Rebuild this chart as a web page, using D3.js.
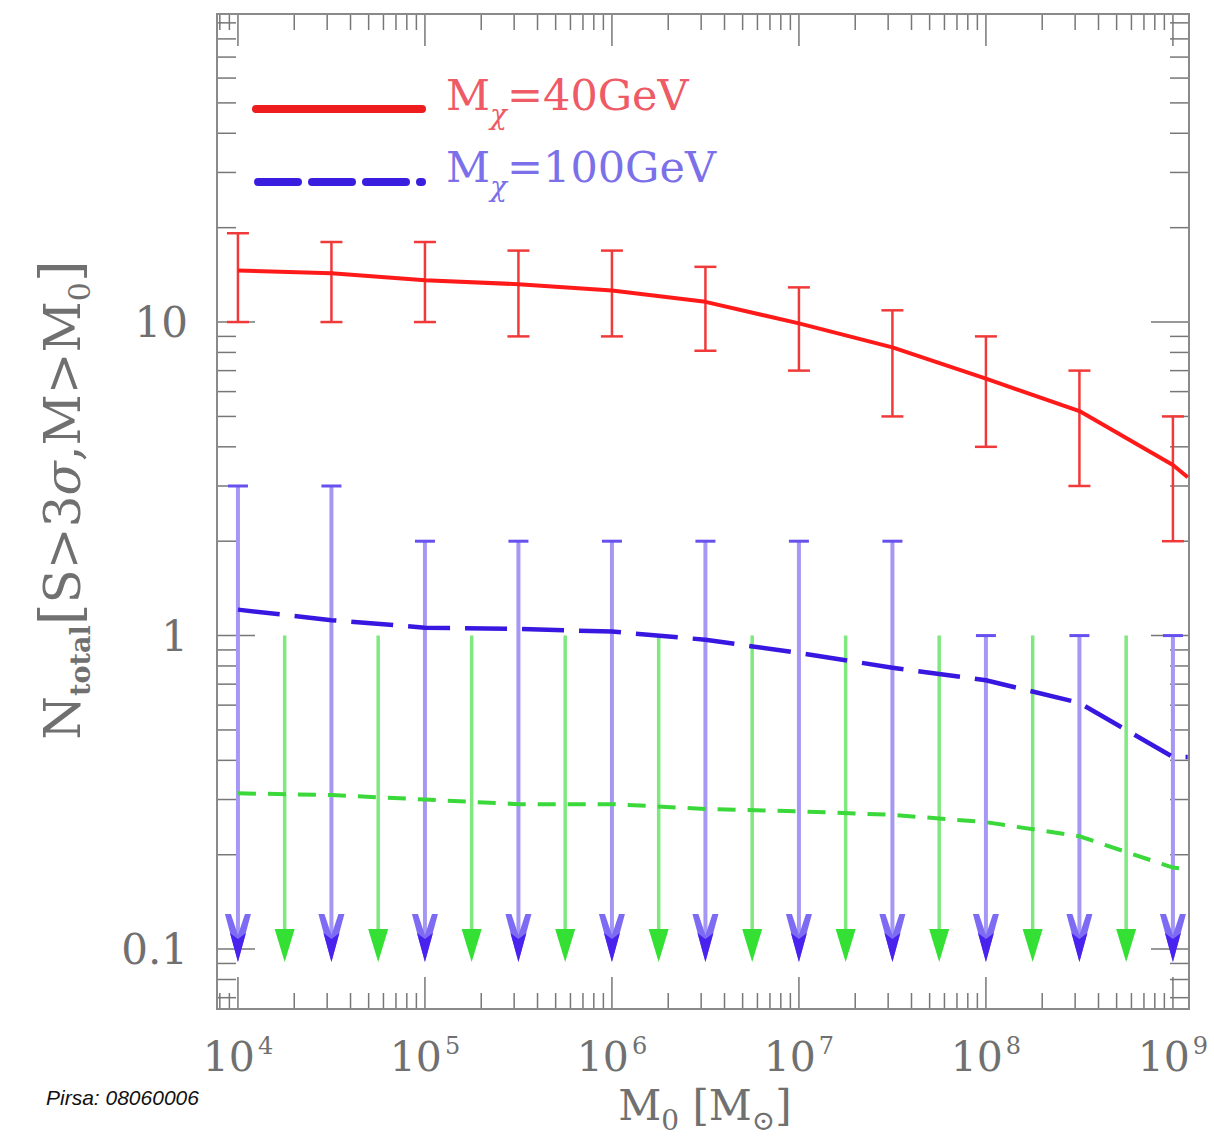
<!DOCTYPE html>
<html>
<head>
<meta charset="utf-8">
<script src="https://cdn.jsdelivr.net/npm/d3@7"></script>
<style>
  html, body { margin: 0; padding: 0; background: #fff; }
  svg { display: block; }
</style>
</head>
<body>
<svg id="chart" width="1214" height="1136"></svg>
<script>
// ---------------- DATA ----------------
// halo mass thresholds M0 [Msun]
const massPoints = [1e4, 3.162e4, 1e5, 3.162e5, 1e6, 3.162e6, 1e7, 3.162e7, 1e8, 3.162e8, 1e9];
// extra point where the curves meet the right frame
const massEdge = 1.2e9;

// M_chi = 40 GeV (red, solid, with error bars)
const red40Value = [14.6, 14.3, 13.6, 13.2, 12.6, 11.6, 9.9, 8.3, 6.6, 5.2, 3.5];
const red40Upper = [19.2, 18.0, 18.0, 16.9, 16.9, 15.0, 12.9, 10.9, 9.0, 7.0, 5.0];
const red40Lower = [10.0, 10.0, 10.0, 9.0, 9.0, 8.1, 7.0, 5.0, 4.0, 3.0, 2.0];
const red40Edge = 3.2;

// M_chi = 100 GeV (blue, long dashed, upper-limit arrows)
const blue100Value = [1.21, 1.12, 1.06, 1.05, 1.03, 0.97, 0.88, 0.79, 0.72, 0.61, 0.41];
const blue100Upper = [3, 3, 2, 2, 2, 2, 2, 2, 1, 1, 1];
const blue100Edge = 0.41;

// third case (green, short dashed, upper-limit arrows at half-decades)
const greenValue = [0.314, 0.31, 0.30, 0.29, 0.29, 0.28, 0.275, 0.268, 0.254, 0.229, 0.182];
const greenEdge = 0.18;
const greenArrowMass = [1.778e4, 5.623e4, 1.778e5, 5.623e5, 1.778e6, 5.623e6, 1.778e7, 5.623e7, 1.778e8, 5.623e8];
const greenArrowUpper = [1, 1, 1, 1, 1, 1, 1, 1, 1, 1];

const arrowFloor = 0.1;

// axis ticks
const xTickBase = ["10", "10", "10", "10", "10", "10"];
const xTickExp = ["4", "5", "6", "7", "8", "9"];
const xTickValues = [1e4, 1e5, 1e6, 1e7, 1e8, 1e9];
const yTickValues = [0.1, 1, 10];
const yTickLabels = ["0.1", "1", "10"];

const legendLabels = ["40GeV", "100GeV"];

// ---------------- LAYOUT ----------------
const svg = d3.select("#chart");
const L = 217, R = 1189, T = 14, B = 1009;

const x = d3.scaleLog().domain([Math.pow(10, 3.888), Math.pow(10, 9.086)]).range([L, R]);
const y = d3.scaleLog().domain([Math.pow(10, 1.9825), Math.pow(10, -1.191)]).range([T, B]);

const serif = "'DejaVu Serif', 'Liberation Serif', serif";
const axisGray = "#707070";

svg.append("rect").attr("width", 1214).attr("height", 1136).attr("fill", "#fff");

// ---- ticks ----
const gT = svg.append("g").attr("stroke", "#777").attr("stroke-width", 1.5);
const yTicks = [];
for (let d = -2; d <= 2; d++) for (let k = 1; k <= 9; k++) {
  const v = k * Math.pow(10, d);
  if (y(v) >= T - 0.5 && y(v) <= B + 0.5) yTicks.push({v, major: k === 1});
}
gT.selectAll("line.yl").data(yTicks).join("line")
  .attr("x1", L).attr("x2", d => L + (d.major ? 38 : 19))
  .attr("y1", d => y(d.v)).attr("y2", d => y(d.v));
gT.selectAll("line.yr").data(yTicks).join("line")
  .attr("x1", R).attr("x2", d => R - (d.major ? 38 : 19))
  .attr("y1", d => y(d.v)).attr("y2", d => y(d.v));

const xTicks = [];
for (let d = 3; d <= 9; d++) for (let k = 1; k <= 9; k++) {
  const v = k * Math.pow(10, d);
  if (x(v) >= L - 0.5 && x(v) <= R + 0.5) xTicks.push({v, major: k === 1});
}
gT.selectAll("line.xb").data(xTicks).join("line")
  .attr("y1", B).attr("y2", d => B - (d.major ? 32 : 16))
  .attr("x1", d => x(d.v)).attr("x2", d => x(d.v));
gT.selectAll("line.xt").data(xTicks).join("line")
  .attr("y1", T).attr("y2", d => T + (d.major ? 32 : 16))
  .attr("x1", d => x(d.v)).attr("x2", d => x(d.v));

// frame
svg.append("rect").attr("x", L).attr("y", T).attr("width", R - L).attr("height", B - T)
  .attr("fill", "none").attr("stroke", "#8a8a8a").attr("stroke-width", 2);

// ---- tick labels ----
const xl = svg.append("g").attr("font-family", serif).attr("fill", axisGray);
xTickValues.forEach((v, i) => {
  const t = xl.append("text").attr("x", x(v)).attr("y", 1071)
    .attr("text-anchor", "middle").attr("font-size", 41);
  t.append("tspan").text(xTickBase[i]);
  t.append("tspan").attr("font-size", 24).attr("dy", -17).attr("dx", 3).text(xTickExp[i]);
});
const yl = svg.append("g").attr("font-family", serif).attr("fill", axisGray);
yTickValues.forEach((v, i) => {
  yl.append("text").attr("x", 188).attr("y", y(v) + 15)
    .attr("text-anchor", "end").attr("font-size", 42).text(yTickLabels[i]);
});

// ---- axis titles ----
const xt = svg.append("text").attr("x", 705).attr("y", 1120)
  .attr("text-anchor", "middle").attr("font-family", serif).attr("fill", axisGray)
  .attr("font-size", 42);
xt.append("tspan").text("M");
xt.append("tspan").attr("font-size", 28).attr("dy", 10).text("0");
xt.append("tspan").attr("dy", -10).text("  [M");
xt.append("tspan").attr("font-size", 28).attr("dy", 10).text("⊙");
xt.append("tspan").attr("dy", -10).text("]");

const yt = svg.append("text")
  .attr("transform", "translate(80,500) rotate(-90)")
  .attr("text-anchor", "middle").attr("font-family", serif).attr("fill", axisGray)
  .attr("font-size", 50);
yt.append("tspan").text("N");
yt.append("tspan").attr("font-size", 27).attr("font-weight", "bold").attr("dy", 10).text("total");
yt.append("tspan").attr("dy", -10).attr("font-size", 56).text("[");
yt.append("tspan").text("S>3");
yt.append("tspan").attr("font-style", "italic").text("σ");
yt.append("tspan").text(",M>M");
yt.append("tspan").attr("font-size", 30).attr("dy", 10).text("0");
yt.append("tspan").attr("dy", -10).attr("font-size", 56).text("]");

// ---- plot content ----
const plot = svg.append("g");

const lineGen = d3.line().x(d => x(d.m)).y(d => y(d.v)).curve(d3.curveLinear);

const mkLine = (vals, edge) => massPoints.map((m, i) => ({m, v: vals[i]})).concat([{m: massEdge, v: edge}]);

// blue arrows (drawn beneath lines)
const blueArrows = massPoints.map((m, i) => ({m, up: blue100Upper[i]}));
const gBA = plot.append("g");
gBA.selectAll("line.shaft").data(blueArrows).join("line")
  .attr("x1", d => x(d.m)).attr("x2", d => x(d.m))
  .attr("y1", d => y(d.up)).attr("y2", d => y(arrowFloor))
  .attr("stroke", "#a597f4").attr("stroke-width", 4);
gBA.selectAll("line.cap").data(blueArrows).join("line")
  .attr("x1", d => x(d.m) - 10).attr("x2", d => x(d.m) + 10)
  .attr("y1", d => y(d.up)).attr("y2", d => y(d.up))
  .attr("stroke", "#6650ee").attr("stroke-width", 3);
gBA.selectAll("path.head").data(blueArrows).join("path")
  .attr("transform", d => `translate(${x(d.m)},${y(arrowFloor)})`)
  .attr("d", "M0,13 L-13,-35 L-7,-35 L0,-14 L7,-35 L13,-35 Z")
  .attr("fill", "#7d6cf3");
gBA.selectAll("path.core").data(blueArrows).join("path")
  .attr("transform", d => `translate(${x(d.m)},${y(arrowFloor)})`)
  .attr("d", "M0,13 L-8,-16 L0,-10 L8,-16 Z")
  .attr("fill", "#4a22ee");

// green arrows
const greenArrows = greenArrowMass.map((m, i) => ({m, up: greenArrowUpper[i]}));
const gGA = plot.append("g");
gGA.selectAll("line").data(greenArrows).join("line")
  .attr("x1", d => x(d.m)).attr("x2", d => x(d.m))
  .attr("y1", d => y(d.up)).attr("y2", d => y(arrowFloor) - 10)
  .attr("stroke", "#7fe87f").attr("stroke-width", 3.5);
gGA.selectAll("path").data(greenArrows).join("path")
  .attr("transform", d => `translate(${x(d.m)},${y(arrowFloor)})`)
  .attr("d", "M0,13 L-10,-20 L10,-20 Z")
  .attr("fill", "#33e033");

// red error bars
const redPts = massPoints.map((m, i) => ({m, v: red40Value[i], hi: red40Upper[i], lo: red40Lower[i]}));
const gE = plot.append("g").attr("stroke", "#f03a3a").attr("stroke-width", 2.5);
gE.selectAll("line.v").data(redPts).join("line")
  .attr("x1", d => x(d.m)).attr("x2", d => x(d.m))
  .attr("y1", d => y(d.hi)).attr("y2", d => y(d.lo));
gE.selectAll("line.h").data(redPts).join("line")
  .attr("x1", d => x(d.m) - 11).attr("x2", d => x(d.m) + 11)
  .attr("y1", d => y(d.hi)).attr("y2", d => y(d.hi));
gE.selectAll("line.l").data(redPts).join("line")
  .attr("x1", d => x(d.m) - 11).attr("x2", d => x(d.m) + 11)
  .attr("y1", d => y(d.lo)).attr("y2", d => y(d.lo));

// curves
plot.append("path").datum(mkLine(greenValue, greenEdge)).attr("d", lineGen)
  .attr("fill", "none").attr("stroke", "#3ad83a").attr("stroke-width", 4)
  .attr("stroke-dasharray", "18,12");
plot.append("path").datum(mkLine(blue100Value, blue100Edge)).attr("d", lineGen)
  .attr("fill", "none").attr("stroke", "#3818e0").attr("stroke-width", 4.5)
  .attr("stroke-dasharray", "42,15");
plot.append("path").datum(mkLine(red40Value, red40Edge)).attr("d", lineGen)
  .attr("fill", "none").attr("stroke", "#ff1a1a").attr("stroke-width", 4)
  .attr("stroke-linejoin", "round");

// ---- legend ----
const lg = svg.append("g");
lg.append("line").attr("x1", 256).attr("x2", 422).attr("y1", 109).attr("y2", 109)
  .attr("stroke", "#ee1c1c").attr("stroke-width", 8).attr("stroke-linecap", "round");
lg.append("line").attr("x1", 258).attr("x2", 422).attr("y1", 182).attr("y2", 182)
  .attr("stroke", "#3a1ee0").attr("stroke-width", 8).attr("stroke-dasharray", "40,14")
  .attr("stroke-linecap", "round");
const legColors = ["#ee5a66", "#7c70ea"];
const legY = [110, 182];
legendLabels.forEach((lab, i) => {
  const t = lg.append("text").attr("x", 446).attr("y", legY[i])
    .attr("font-family", serif).attr("font-size", 43).attr("fill", legColors[i]);
  t.append("tspan").text("M");
  t.append("tspan").attr("font-size", 28).attr("font-style", "italic").attr("dy", 14).text("χ");
  t.append("tspan").attr("dy", -14).text("=" + lab);
});

// ---- footer ----
svg.append("text").attr("x", 46).attr("y", 1105)
  .attr("font-family", "'Liberation Sans', Arial, sans-serif").attr("font-style", "italic")
  .attr("font-size", 21).attr("fill", "#111").text("Pirsa: 08060006");
</script>
</body>
</html>
